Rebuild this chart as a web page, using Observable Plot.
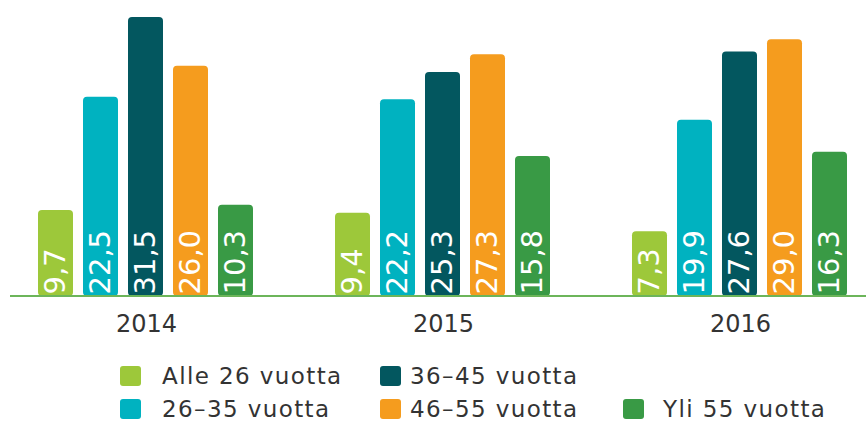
<!DOCTYPE html>
<html>
<head>
<meta charset="utf-8">
<script src="https://cdn.jsdelivr.net/npm/d3@7"></script>
<script src="https://cdn.jsdelivr.net/npm/@observablehq/plot@0.6"></script>
<style>
  html, body { margin: 0; padding: 0; background: #fff; }
  #chart { position: relative; width: 866px; }
  .legend { position: relative; width: 866px; height: 77px; font-family: "DejaVu Sans", Verdana, sans-serif; font-size: 23px; color: #333; }
  .sw { position: absolute; width: 21px; height: 20px; border-radius: 3px; }
  .lt { position: absolute; line-height: 20px; white-space: nowrap; letter-spacing: 1.4px; }
</style>
</head>
<body>
<div id="chart"></div>
<script>
const years = ["2014", "2015", "2016"];
const series = ["Alle 26 vuotta", "26–35 vuotta", "36–45 vuotta", "46–55 vuotta", "Yli 55 vuotta"];
const colors = ["#9dc83a", "#00b2c0", "#03575f", "#f59c1e", "#399a45"];
const v2014 = [9.7, 22.5, 31.5, 26.0, 10.3];
const v2015 = [9.4, 22.2, 25.3, 27.3, 15.8];
const v2016 = [7.3, 19.9, 27.6, 29.0, 16.3];

const valuesByYear = [v2014, v2015, v2016];
const data = [];
years.forEach((y, i) => series.forEach((s, j) => data.push({year: y, series: s, value: valuesByYear[i][j]})));
const fmt = v => v.toFixed(1).replace(".", ",");

const plot = Plot.plot({
  width: 866,
  height: 345,
  marginLeft: 36,
  marginRight: 15,
  marginTop: 17,
  marginBottom: 49,
  style: {fontFamily: "'DejaVu Sans', Verdana, sans-serif", background: "#fff"},
  fx: {domain: years, paddingInner: 0.265, paddingOuter: 0, axis: null, label: null},
  x: {domain: series, paddingInner: 0.22, paddingOuter: 0, axis: null, label: null},
  y: {domain: [0, 31.5], axis: null, nice: false, label: null},
  color: {domain: series, range: colors},
  marks: [
    Plot.barY(data, {fx: "year", x: "series", y: "value", fill: "series", rx: 4}),
    Plot.text(data, {
      fx: "year", x: "series", y: 0, text: d => fmt(d.value),
      rotate: -90, textAnchor: "start", lineAnchor: "middle",
      fill: "white", fontSize: 29, dy: -2
    }),
    Plot.text(years, {
      fx: d => d, text: d => d, frameAnchor: "bottom", dy: 35,
      fill: "#333", fontSize: 24
    })
  ]
});

// baseline drawn with the library's y scale
const y0 = plot.scale("y").apply(0);
d3.select(plot).append("line")
  .attr("x1", 10).attr("x2", 866)
  .attr("y1", y0).attr("y2", y0)
  .attr("stroke", "#6cb55a").attr("stroke-width", 2);

document.getElementById("chart").appendChild(plot);

// legend
const legendPos = [
  {s: 0, sx: 120, tx: 162, top: 21},
  {s: 2, sx: 380, tx: 410, top: 21},
  {s: 1, sx: 120, tx: 162, top: 54},
  {s: 3, sx: 380, tx: 410, top: 54},
  {s: 4, sx: 623, tx: 663, top: 54}
];
const legend = document.createElement("div");
legend.className = "legend";
legendPos.forEach(p => {
  const sw = document.createElement("div");
  sw.className = "sw";
  sw.style.left = p.sx + "px";
  sw.style.top = p.top + "px";
  sw.style.background = colors[p.s];
  legend.appendChild(sw);
  const t = document.createElement("div");
  t.className = "lt";
  t.style.left = p.tx + "px";
  t.style.top = p.top + "px";
  t.textContent = series[p.s];
  legend.appendChild(t);
});
document.getElementById("chart").appendChild(legend);
</script>
</body>
</html>
